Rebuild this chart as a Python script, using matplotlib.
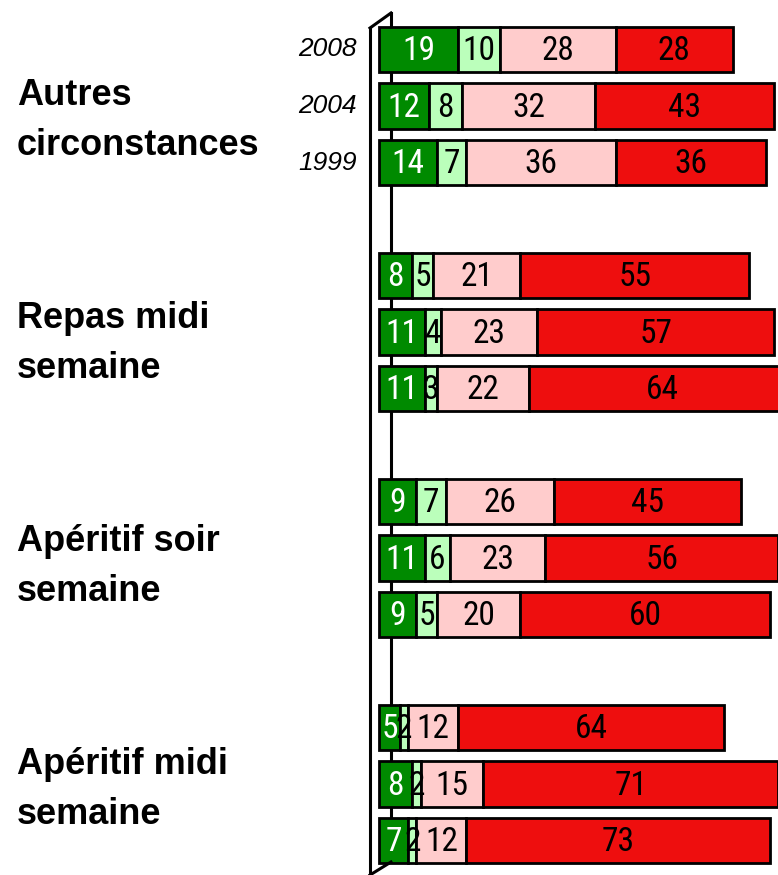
import matplotlib.pyplot as plt
from matplotlib.lines import Line2D

# ============================================================
# DATA
# ============================================================
categories = ["Autres\ncirconstances", "Repas midi\nsemaine",
              "Apéritif soir\nsemaine", "Apéritif midi\nsemaine"]
years = ["2008", "2004", "1999"]

dark_green = [[19, 12, 14], [8, 11, 11], [9, 11, 9], [5, 8, 7]]
light_green = [[10, 8, 7], [5, 4, 3], [7, 6, 5], [2, 2, 2]]
pink = [[28, 32, 36], [21, 23, 22], [26, 23, 20], [12, 15, 12]]
red = [[28, 43, 36], [55, 57, 64], [45, 56, 60], [64, 71, 73]]

series = [dark_green, light_green, pink, red]
colors = ['#008A00', '#BBFFBB', '#FFCCCC', '#EE0E0E']
text_colors = ['white', 'black', 'black', 'black']

# ============================================================
# FIGURE
# ============================================================
W, H = 778, 875
fig = plt.figure(figsize=(W / 100, H / 100), dpi=100)
ax = fig.add_axes([0, 0, 1, 1])

px_per_unit = 4.16
x0_px = 379
ax.set_xlim(-x0_px / px_per_unit, (W - x0_px) / px_per_unit)
pitch = 56.5
top_c = 49.5
ax.set_ylim((H - top_c) / pitch, -top_c / pitch)
ax.axis('off')

num_font = ['Roboto Condensed', 'DejaVu Sans']

for g, cat in enumerate(categories):
    for j in range(3):
        y = 4 * g + j
        left = 0
        for s in range(4):
            v = series[s][g][j]
            ax.barh(y, v, left=left, height=0.8, color=colors[s],
                    edgecolor='black', linewidth=2, zorder=3)
            ax.text(left + v / 2, y + 0.03, str(v), ha='center', va='center',
                    fontsize=24, color=text_colors[s], family=num_font,
                    stretch='condensed', zorder=4)
            left += v
        if g == 0:
            ax.text(-5.3, y, years[j], ha='right', va='center',
                    fontsize=19, style='italic', family='Liberation Sans')
    ax.text(-87, 4 * g + 1.25 - 0.05 * g, cat, ha='left', va='center',
            fontsize=26, weight='bold', family='Liberation Sans',
            linespacing=1.56)

# 3D-ish axis wall lines (pixel coords from top-left)
def fl(xs, ys, z):
    ax.add_line(Line2D([x / W for x in xs], [1 - y / H for y in ys],
                       transform=fig.transFigure, color='black', lw=2.2,
                       zorder=z, clip_on=False))

fl([370, 370], [28, 880], 5)
fl([370, 391], [28, 13], 5)
fl([391, 391], [13, 862], 1)
fl([370, 391], [875, 862], 5)

fig.savefig('out.png', dpi=100)
